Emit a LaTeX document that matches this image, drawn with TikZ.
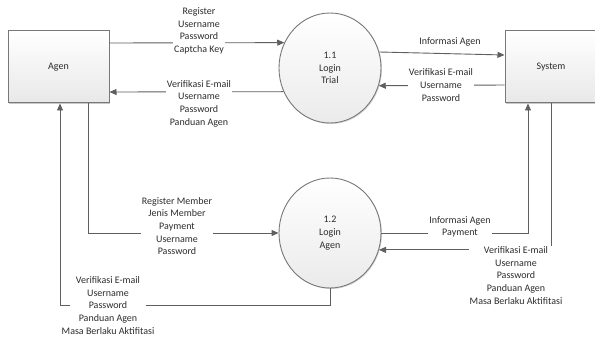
\documentclass[tikz,border=0pt]{standalone}
\usepackage{fontspec}
\setmainfont{Carlito}
\usetikzlibrary{arrows.meta,shapes.geometric,shadows}
\definecolor{lncol}{RGB}{95,95,95}
\definecolor{txcol}{RGB}{45,45,45}
\definecolor{bdcol}{RGB}{120,120,120}
\tikzset{
  every node/.style={font=\fontsize{10}{12.7}\selectfont, text=txcol},
  entbox/.style={draw=bdcol, line width=1pt, top color=white, bottom color=black!9,
    minimum height=72pt, inner sep=0pt,
    drop shadow={shadow xshift=1.2pt, shadow yshift=-1.2pt, fill=black!35, opacity=.6}},
  procell/.style={ellipse, draw=bdcol, line width=0.9pt, top color=white, bottom color=black!8,
    minimum width=102pt, minimum height=110pt, inner sep=0pt, align=center,
    drop shadow={shadow xshift=1pt, shadow yshift=-1pt, fill=black!30, opacity=.5}},
  flow/.style={draw=lncol, line width=0.9pt, -{Triangle[length=7pt,width=6pt]}},
  flowlbl/.style={align=center, inner sep=1pt},
  lblfill/.style={flowlbl, fill=white}
}
\begin{document}
\begin{tikzpicture}[x=1pt,y=1pt]
\useasboundingbox (0,0) rectangle (595,338);
\fill[white] (0,0) rectangle (595,338);

% entities
\node[entbox, minimum width=101pt] (agen) at (58.5,271) {Agen};
\node[entbox, minimum width=92pt] (sys) at (551,271) {System};

% processes
\node[procell] (l11) at (330,270) {1.1\\Login\\Trial};
\node[procell] (l12) at (330,105) {1.2\\Login\\Agen};

% flows around 1.1
\draw[flow] ([yshift=24pt]agen.east) -- (l11.151);
\draw[flow] (l11.207.6) -- ([yshift=-25pt]agen.east);
\draw[flow] (l11.18) -- ([yshift=12pt]sys.west);
\draw[flow] ([yshift=-18pt]sys.west) -- (l11.340.7);

% flows around 1.2
\draw[flow] ([xshift=29.5pt]agen.south) |- (l12.west);
\draw[flow] (l12.south) -- ++(0,-17) -| ([xshift=1.5pt]agen.south);
\draw[flow] (l12.east) -| ([xshift=-23pt]sys.south);
\draw[flow] (sys.south) |- (l12.341.8);

% labels
\node[lblfill] (t1) at (199,307) {Register\\Username\\Password\\Captcha Key};
\node[lblfill] (t2) at (199,234.5) {Verifikasi E-mail\\Username\\Password\\Panduan Agen};
\node[flowlbl] (t3) at (450,296) {Informasi Agen};
\node[lblfill] (t4) at (441,253) {Verifikasi E-mail\\Username\\Password};
\node[lblfill] (t5) at (177,112) {Register Member\\Jenis Member\\Payment\\Username\\Password};
\node[lblfill, inner xsep=-8pt] (t6) at (108,32.5) {Verifikasi E-mail\\Username\\Password\\Panduan Agen\\Masa Berlaku Aktifitasi};
\node[lblfill] (t7) at (460,111) {Informasi Agen\\Payment};
\node[lblfill] (t8) at (516,62.5) {Verifikasi E-mail\\Username\\Password\\Panduan Agen\\Masa Berlaku Aktifitasi};
\end{tikzpicture}
\end{document}
